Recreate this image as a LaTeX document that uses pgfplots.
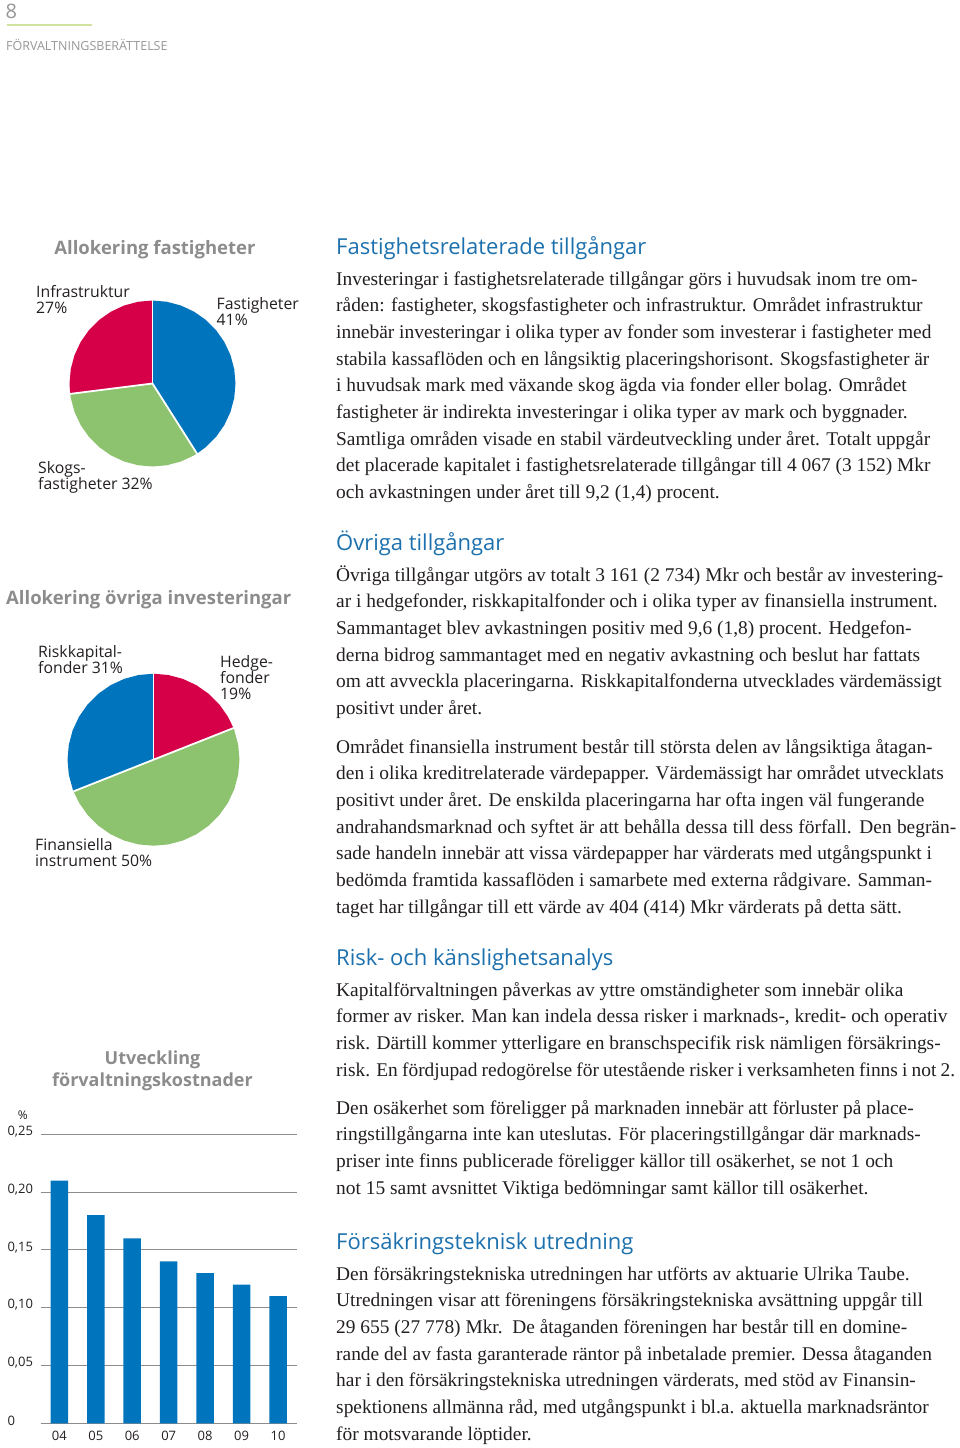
\documentclass[border=0pt]{standalone}
\usepackage{fontspec}
\setmainfont{Liberation Serif}
\newfontfamily\osans{Open Sans}
\usepackage{pgfplots}
\pgfplotsset{compat=1.18}
\definecolor{pblue}{RGB}{0,116,189}
\definecolor{pred}{RGB}{214,0,72}
\definecolor{pgreen}{RGB}{141,194,110}
\definecolor{hblue}{RGB}{28,112,173}
\definecolor{tgray}{RGB}{140,140,140}
\definecolor{hgray}{RGB}{150,150,150}
\definecolor{hgreen}{RGB}{210,226,160}
\definecolor{gridgray}{RGB}{140,140,140}
\definecolor{txt}{RGB}{35,31,32}
\newcommand\para[2]{\node[anchor=base west,inner sep=0pt,text=txt] at (336,-#1) {\parbox[t]{700pt}{\fontsize{19.4}{26.7}\selectfont #2}};}
\newcommand\head[2]{\node[anchor=base west,inner sep=0pt,text=hblue,font=\osans\fontsize{22}{22}\selectfont] at (336,-#1) {#2};}
\tikzset{plab/.style={anchor=base west,inner sep=0pt,text=txt,align=left,font=\osans\fontsize{15.8}{16}\selectfont},
  ttl/.style={inner sep=0pt,text=tgray,font=\osans\bfseries\fontsize{18.5}{18.5}\selectfont}}
\begin{document}
\begin{tikzpicture}
\begin{scope}[x=1pt,y=1pt]
\path[use as bounding box] (0,0) rectangle (960,-1448);
% header
\node[anchor=base west,inner sep=0pt,text=hgray,font=\osans\fontsize{20}{20}\selectfont] at (5.5,-18) {8};
\draw[hgreen,line width=1.5pt] (6.5,-25) -- (91.5,-25);
\node[anchor=base west,inner sep=0pt,text=hgray,font=\osans\fontsize{12.5}{12.5}\selectfont] at (6,-50) {FÖRVALTNINGSBERÄTTELSE};

% titles and labels (base = baseline of last line)
\node[ttl,anchor=base] at (155,-254) {Allokering fastigheter};
\node[plab] at (36,-313.5) {Infrastruktur\\27\%};
\node[plab] at (216.5,-325.5) {Fastigheter\\41\%};
\node[plab] at (38,-489.5) {Skogs-\\fastigheter 32\%};

\node[ttl,anchor=base west] at (6,-604) {Allokering övriga investeringar};
\node[plab] at (38,-673.3) {Riskkapital-\\fonder 31\%};
\node[plab] at (220,-699.3) {Hedge-\\fonder\\19\%};
\node[plab] at (35,-866.5) {Finansiella\\instrument 50\%};

\node[ttl,anchor=base,font=\osans\bfseries\fontsize{18}{18}\selectfont] at (152.5,-1064) {Utveckling};
\node[ttl,anchor=base,font=\osans\bfseries\fontsize{18}{18}\selectfont] at (152.5,-1086) {förvaltningskostnader};
\node[inner sep=0pt,text=txt,font=\osans\fontsize{12}{12}\selectfont] at (22.7,-1115) {\%};

% ---- text column
\head{254}{Fastighetsrelaterade tillgångar}
\para{285}{Investeringar i fastighetsrelaterade tillgångar görs i huvudsak inom tre om-\\
råden: fastigheter, skogsfastigheter och infrastruktur. Området infrastruktur\\
innebär investeringar i olika typer av fonder som investerar i fastigheter med\\
stabila kassaflöden och en långsiktig placeringshorisont. Skogsfastigheter är\\
i huvudsak mark med växande skog ägda via fonder eller bolag. Området\\
fastigheter är indirekta investeringar i olika typer av mark och byggnader.\\
Samtliga områden visade en stabil värdeutveckling under året. Totalt uppgår\\
det placerade kapitalet i fastighetsrelaterade tillgångar till 4~067 (3~152) Mkr\\
och avkastningen under året till 9,2 (1,4) procent.}

\head{550}{Övriga tillgångar}
\para{581}{Övriga tillgångar utgörs av totalt 3~161 (2~734) Mkr och består av investering-\\
ar i hedgefonder, riskkapitalfonder och i olika typer av finansiella instrument.\\
Sammantaget blev avkastningen positiv med 9,6 (1,8) procent. Hedgefon-\\
derna bidrog sammantaget med en negativ avkastning och beslut har fattats\\
om att avveckla placeringarna. Riskkapitalfonderna utvecklades värdemässigt\\
positivt under året.}
\para{753}{Området finansiella instrument består till största delen av långsiktiga åtagan-\\
den i olika kreditrelaterade värdepapper. Värdemässigt har området utvecklats\\
positivt under året. De enskilda placeringarna har ofta ingen väl fungerande\\
\hbox to 620pt{andrahandsmarknad och syftet är att behålla dessa till dess förfall. Den begrän-}\\
sade handeln innebär att vissa värdepapper har värderats med utgångspunkt i\\
bedömda framtida kassaflöden i samarbete med externa rådgivare. Samman-\\
taget har tillgångar till ett värde av 404 (414) Mkr värderats på detta sätt.}

\head{965}{Risk- och känslighetsanalys}
\para{996}{Kapitalförvaltningen påverkas av yttre omständigheter som innebär olika\\
former av risker. Man kan indela dessa risker i marknads-, kredit- och operativ\\
risk. Därtill kommer ytterligare en branschspecifik risk nämligen försäkrings-\\
\hbox to 619pt{risk. En fördjupad redogörelse för utestående risker i verksamheten finns i not 2.}}
\para{1114}{Den osäkerhet som föreligger på marknaden innebär att förluster på place-\\
ringstillgångarna inte kan uteslutas. För placeringstillgångar där marknads-\\
priser inte finns publicerade föreligger källor till osäkerhet, se not 1 och\\
not 15 samt avsnittet Viktiga bedömningar samt källor till osäkerhet.}

\head{1249}{Försäkringsteknisk utredning}
\para{1280}{Den försäkringstekniska utredningen har utförts av aktuarie Ulrika Taube.\\
Utredningen visar att föreningens försäkringstekniska avsättning uppgår till\\
29~655 (27~778) Mkr.\ \ De åtaganden föreningen har består till en domine-\\
rande del av fasta garanterade räntor på inbetalade premier. Dessa åtaganden\\
har i den försäkringstekniska utredningen värderats, med stöd av Finansin-\\
spektionens allmänna råd, med utgångspunkt i bl.a. aktuella marknadsräntor\\
för motsvarande löptider.}
\end{scope}

% ---- pie 1
\begin{axis}[at={(152.5pt,-383.5pt)},anchor=center,scale only axis,width=166pt,height=166pt,
  xmin=-1,xmax=1,ymin=-1,ymax=1,hide axis,clip=false]
\addplot[fill=pblue,draw=none,data cs=polar] coordinates {(90,1) (80,1) (70,1) (60,1) (50,1) (40,1) (30,1) (20,1) (10,1) (0,1) (-10,1) (-20,1) (-30,1) (-40,1) (-50,1) (-57.6,1) (0,0)};
\addplot[fill=pgreen,draw=none,data cs=polar] coordinates {(-57.6,1) (-60,1) (-70,1) (-80,1) (-90,1) (-100,1) (-110,1) (-120,1) (-130,1) (-140,1) (-150,1) (-160,1) (-170,1) (-172.8,1) (0,0)};
\addplot[fill=pred,draw=none,data cs=polar] coordinates {(-172.8,1) (-180,1) (-190,1) (-200,1) (-210,1) (-220,1) (-230,1) (-240,1) (-250,1) (-260,1) (-270,1) (0,0)};
\addplot[white,line width=1.8pt,data cs=polar] coordinates {(90,1.02) (0,0)};
\addplot[white,line width=1.8pt,data cs=polar] coordinates {(-57.6,1.02) (0,0)};
\addplot[white,line width=1.8pt,data cs=polar] coordinates {(-172.8,1.02) (0,0)};
\end{axis}

% ---- pie 2
\begin{axis}[at={(153.5pt,-759.7pt)},anchor=center,scale only axis,width=172pt,height=172pt,
  xmin=-1,xmax=1,ymin=-1,ymax=1,hide axis,clip=false]
\addplot[fill=pred,draw=none,data cs=polar] coordinates {(90,1) (80,1) (70,1) (60,1) (50,1) (40,1) (30,1) (21.6,1) (0,0)};
\addplot[fill=pgreen,draw=none,data cs=polar] coordinates {(21.6,1) (20,1) (10,1) (0,1) (-10,1) (-20,1) (-30,1) (-40,1) (-50,1) (-60,1) (-70,1) (-80,1) (-90,1) (-100,1) (-110,1) (-120,1) (-130,1) (-140,1) (-150,1) (-158.4,1) (0,0)};
\addplot[fill=pblue,draw=none,data cs=polar] coordinates {(-158.4,1) (-160,1) (-170,1) (-180,1) (-190,1) (-200,1) (-210,1) (-220,1) (-230,1) (-240,1) (-250,1) (-260,1) (-270,1) (0,0)};
\addplot[white,line width=1.8pt,data cs=polar] coordinates {(90,1.02) (0,0)};
\addplot[white,line width=1.8pt,data cs=polar] coordinates {(21.6,1.02) (0,0)};
\addplot[white,line width=1.8pt,data cs=polar] coordinates {(-158.4,1.02) (0,0)};
\end{axis}

% ---- bar chart
\begin{axis}[at={(40.7pt,-1423.3pt)},anchor=south west,scale only axis,width=256pt,height=289pt,
  xmin=-0.51,xmax=6.51,ymin=0,ymax=0.25,
  axis line style={draw=none},major tick length=0pt,
  ytick={0,0.05,0.10,0.15,0.20,0.25},
  yticklabels={0,{0,05},{0,10},{0,15},{0,20},{0,25}},
  xtick={0,1,2,3,4,5,6},
  xticklabels={04,05,06,07,08,09,10},
  ymajorgrids,grid style={gridgray,line width=1.1pt},
  yticklabel style={anchor=west,inner sep=0pt,xshift=-33.4pt,yshift=2.6pt,font=\osans\fontsize{13}{13}\selectfont,text=txt},
  xticklabel style={anchor=center,inner sep=0pt,yshift=-12.4pt,font=\osans\fontsize{13}{13}\selectfont,text=txt},
  clip=false]
\addplot[ybar,bar width=17.5pt,fill=pblue,draw=none] coordinates {(0,0.21) (1,0.18) (2,0.16) (3,0.14) (4,0.13) (5,0.12) (6,0.11)};
\end{axis}
\end{tikzpicture}
\end{document}
